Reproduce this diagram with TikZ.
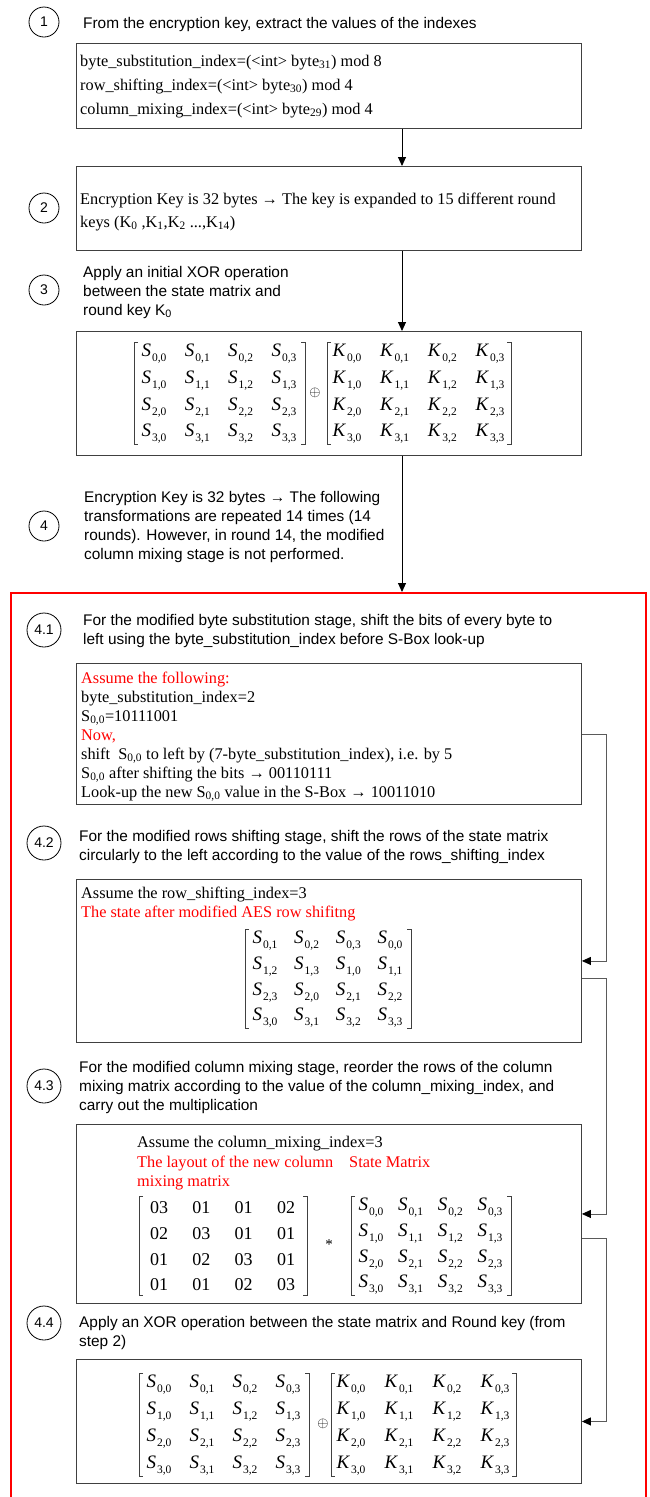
\documentclass[tikz,border=0pt]{standalone}
\usepackage{fontspec}
\setmainfont{Liberation Serif}
\setsansfont{Liberation Sans}
\usetikzlibrary{arrows.meta}

\definecolor{framegray}{HTML}{404040}
\definecolor{loopgray}{HTML}{5A5A5A}
\definecolor{hotred}{HTML}{FF0000}

% "00" -> "0,0" for matrix subscripts
\def\splitpair#1#2\relax{#1,#2}
\newcommand\matent[2]{\textit{#1}\kern1pt\raisebox{-5pt}{\fontsize{11.5}{11.5}\selectfont\expandafter\splitpair#2\relax}}
\newcommand\Sent[1]{\matent{S}{#1}}
\newcommand\Kent[1]{\matent{K}{#1}}
\newcommand\Nent[1]{#1}
\newcommand\lsub[1]{\textsubscript{#1}}
\newcommand\hot[1]{\textcolor{hotred}{#1}}

% bracketed 4x4 grid: #1 name, #2 cell formatter, #3 left, #4 right, #5 top, #6 bottom, #7 rows
\newcommand\bracketgrid[7]{%
  \foreach \gridrow [count=\rr from 0] in {#7}{%
    \foreach \gridcell [count=\cc from 0] in \gridrow{%
      \node[cell] (#1-\rr-\cc) at ({#3+20+\cc*(#4-#3-41)/3},{#5+12+\rr*(#6-#5-22)/3}) {#2{\gridcell}};
    }%
  }%
  \draw[bracket] ({#3+4},#5) -- (#3,#5) -- (#3,#6) -- ({#3+4},#6);
  \draw[bracket] ({#4-4},#5) -- (#4,#5) -- (#4,#6) -- ({#4-4},#6);
}

\begin{document}
% multi-line texts are anchored on the baseline of their last line
\begin{tikzpicture}[x=1pt,y=-1pt,
  stepnum/.style={draw=black, line width=0.8pt, circle, minimum size=30pt, inner sep=0pt,
    font=\sffamily\fontsize{14}{14}\selectfont},
  substepnum/.style={stepnum, minimum size=34pt},
  steptext/.style={anchor=base west, inner sep=0pt, align=left,
    font=\sffamily\fontsize{15.4}{19}\selectfont},
  boxtext/.style={anchor=base west, inner sep=0pt, align=left,
    font=\fontsize{16.3}{19}\selectfont},
  panel/.style={draw=framegray, line width=0.9pt, anchor=north west,
    minimum width=505pt, inner sep=0pt},
  roundframe/.style={draw=hotred, line width=2pt, anchor=north west, inner sep=0pt},
  cell/.style={inner sep=0pt, font=\fontsize{19}{19}\selectfont},
  bracket/.style={draw=framegray, line width=0.8pt},
  flow/.style={-{Triangle[length=9pt,width=8pt]}, line width=0.9pt, black},
  loopline/.style={draw=loopgray, line width=0.9pt,
    -{Triangle[length=9pt,width=8pt,color=black]}},
  opsign/.style={inner sep=0pt, font=\fontsize{15}{15}\selectfont}
]
\useasboundingbox (0,0) rectangle (649,1497);
\fill[white] (0,0) rectangle (649,1497);

\coordinate (spine) at (402,0);
\coordinate (rail) at (606,0);

% ---------- step 1 ----------
\node[stepnum] (n1) at (44,22) {1};
\node[steptext] (t1) at (83,28) {From the encryption key, extract the values of the indexes};
\node[panel, minimum height=85pt] (key) at (76,43) {};
\node[boxtext, font=\fontsize{16.3}{24}\selectfont] (keytext) at (80,114)
  {byte\_substitution\_index=(<int> byte\lsub{31}) mod 8\\
   row\_shifting\_index=(<int> byte\lsub{30}) mod 4\\
   column\_mixing\_index=(<int> byte\lsub{29}) mod 4};

% ---------- step 2 ----------
\node[panel, minimum height=84pt] (expand) at (76,166) {};
\node[stepnum] (n2) at (44,208) {2};
\node[boxtext, font=\fontsize{16.3}{23}\selectfont] (expandtext) at (80,227)
  {Encryption Key is 32 bytes → The key is expanded to 15 different round\\
   keys (K\lsub{0} ,K\lsub{1},K\lsub{2} ...,K\lsub{14})};

% ---------- step 3 ----------
\node[stepnum] (n3) at (44,290) {3};
\node[steptext] (t3) at (83,315)
  {Apply an initial XOR operation\\between the state matrix and\\round key K\lsub{0}};
\node[panel, minimum height=124pt] (xor0) at (76,331) {};
\bracketgrid{sa}{\Sent}{134}{305}{342}{444}{{00,01,02,03},{10,11,12,13},{20,21,22,23},{30,31,32,33}}
\node[opsign] (plusa) at (315,393) {$\oplus$};
\bracketgrid{ka}{\Kent}{327}{511}{342}{444}{{00,01,02,03},{10,11,12,13},{20,21,22,23},{30,31,32,33}}

% ---------- step 4 ----------
\node[stepnum] (n4) at (44,526) {4};
\node[steptext] (t4) at (84,559)
  {Encryption Key is 32 bytes → The following\\
   transformations are repeated 14 times (14\\
   rounds). However, in round 14, the modified\\
   column mixing stage is not performed.};

% ---------- repeated rounds ----------
\node[roundframe, minimum width=635pt, minimum height=1000pt] (rounds) at (10,592) {};

% 4.1
\node[substepnum] (n41) at (44,630) {4.1};
\node[steptext] (t41) at (83,644)
  {For the modified byte substitution stage, shift the bits of every byte to\\
   left using the byte\_substitution\_index before S-Box look-up};
\node[panel, minimum height=141pt] (sub) at (76,663) {};
\node[boxtext] (subtext) at (81,797)
  {\hot{Assume the following:}\\
   byte\_substitution\_index=2\\
   S\lsub{0,0}=10111001\\
   \hot{Now,}\\
   shift\ \ S\lsub{0,0} to left by (7-byte\_substitution\_index), i.e. by 5\\
   S\lsub{0,0} after shifting the bits → 00110111\\
   Look-up the new S\lsub{0,0} value in the S-Box → 10011010};

% 4.2
\node[substepnum] (n42) at (44,843) {4.2};
\node[steptext] (t42) at (79,860)
  {For the modified rows shifting stage, shift the rows of the state matrix\\
   circularly to the left according to the value of the rows\_shifting\_index};
\node[panel, minimum height=163pt] (shift) at (76,879) {};
\node[boxtext] (shifttext) at (81,917)
  {Assume the row\_shifting\_index=3\\
   \hot{The state after modified AES row shifitng}};
\bracketgrid{sb}{\Sent}{245}{411}{929}{1028}{{01,02,03,00},{12,13,10,11},{23,20,21,22},{30,31,32,33}}

% 4.3
\node[substepnum] (n43) at (44,1086) {4.3};
\node[steptext] (t43) at (79,1110)
  {For the modified column mixing stage, reorder the rows of the column\\
   mixing matrix according to the value of the column\_mixing\_index, and\\
   carry out the multiplication};
\node[panel, minimum height=179pt] (mix) at (76,1124) {};
\node[boxtext] (mixtext) at (137,1147) {Assume the column\_mixing\_index=3};
\node[boxtext] (mixlabel) at (137,1186) {\hot{The layout of the new column}\\\hot{mixing matrix}};
\node[boxtext] (statelabel) at (349,1167) {\hot{State Matrix}};
\begin{scope}[cell/.style={inner sep=0pt, font=\fontsize{18}{18}\selectfont}]
\bracketgrid{mm}{\Nent}{139}{307}{1196}{1295}{{03,01,01,02},{02,03,01,01},{01,02,03,01},{01,01,02,03}}
\end{scope}
\node[opsign] (times) at (329,1245) {*};
\bracketgrid{sc}{\Sent}{351}{511}{1196}{1295}{{00,01,02,03},{10,11,12,13},{20,21,22,23},{30,31,32,33}}

% 4.4
\node[substepnum] (n44) at (44,1323) {4.4};
\node[steptext] (t44) at (79,1346)
  {Apply an XOR operation between the state matrix and Round key (from\\step 2)};
\node[panel, minimum height=124pt] (xorr) at (76,1359) {};
\bracketgrid{sd}{\Sent}{139}{309}{1373}{1476}{{00,01,02,03},{10,11,12,13},{20,21,22,23},{30,31,32,33}}
\node[opsign] (plusb) at (323,1424) {$\oplus$};
\bracketgrid{kd}{\Kent}{331}{516}{1373}{1476}{{00,01,02,03},{10,11,12,13},{20,21,22,23},{30,31,32,33}}

% ---------- main flow ----------
\draw[flow] (key.south -| spine) -- (expand.north -| spine);
\draw[flow] (expand.south -| spine) -- (xor0.north -| spine);
\draw[flow] (xor0.south -| spine) -- (rounds.north -| spine);

% ---------- stage hand-over inside a round ----------
\draw[loopline] (sub.east) -- (sub.east -| rail) |- (shift.east);
\draw[loopline] ([yshift=-17pt]shift.east) -- ([yshift=-17pt]shift.east -| rail) |- (mix.east);
\draw[loopline] ([yshift=-24pt]mix.east) -- ([yshift=-24pt]mix.east -| rail) |- (xorr.east);
\end{tikzpicture}
\end{document}
